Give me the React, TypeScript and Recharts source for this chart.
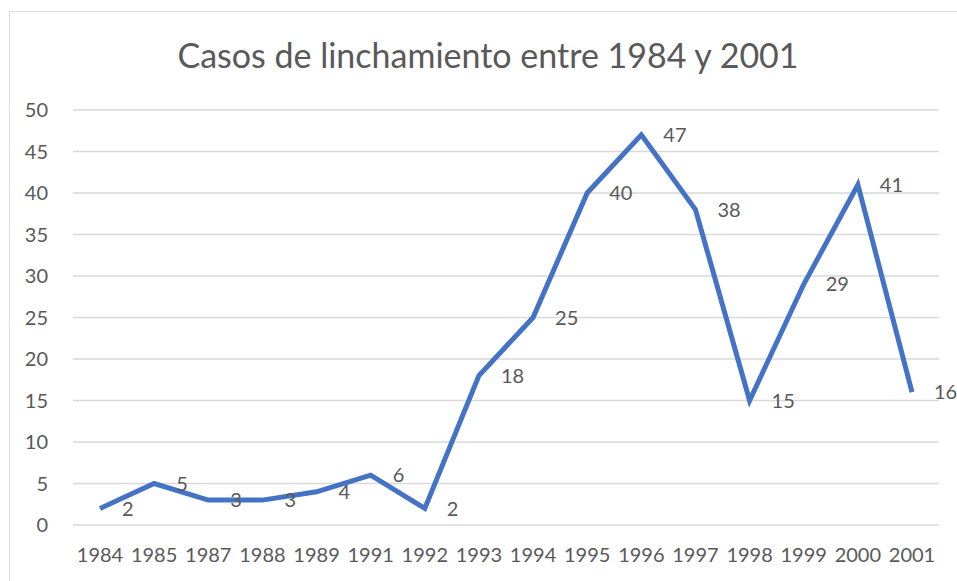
import React from "react";
import {
  LineChart,
  Line,
  XAxis,
  YAxis,
  CartesianGrid,
  LabelList,
} from "recharts";

const years = [
  "1984", "1985", "1987", "1988", "1989", "1991", "1992", "1993",
  "1994", "1995", "1996", "1997", "1998", "1999", "2000", "2001",
];
const cases = [2, 5, 3, 3, 4, 6, 2, 18, 25, 40, 47, 38, 15, 29, 41, 16];
const yTicks = [0, 5, 10, 15, 20, 25, 30, 35, 40, 45, 50];

const chartData = years.map((year, i) => ({ year, cases: cases[i] }));

const FONT = "Lato, 'Open Sans', sans-serif";
const TEXT = "#595959";

export default function App() {
  return (
    <div
      style={{
        position: "absolute",
        left: 0,
        top: 0,
        width: 957,
        height: 581,
        overflow: "hidden",
        background: "#fff",
        fontFamily: FONT,
      }}
    >
      {/* chart area border */}
      <div
        style={{
          position: "absolute",
          left: 9,
          top: 11,
          width: 980,
          height: 600,
          border: "1px solid #d9d9d9",
        }}
      />
      <div
        style={{
          position: "absolute",
          left: 9,
          width: 958,
          top: 33,
          textAlign: "center",
          fontSize: 34,
          color: TEXT,
          lineHeight: "44px",
          whiteSpace: "nowrap",
        }}
      >
        Casos de linchamiento entre 1984 y 2001
      </div>
      <div style={{ position: "absolute", left: 0, top: 0 }}>
        <LineChart
          width={957}
          height={581}
          data={chartData}
          margin={{ top: 110, right: 18, bottom: 0, left: 13 }}
        >
          <CartesianGrid vertical={false} stroke="#d9d9d9" strokeWidth={1.5} />
          <XAxis
            dataKey="year"
            height={56}
            padding={{ left: 27, right: 27 }}
            axisLine={false}
            tickLine={false}
            tickSize={0}
            tickMargin={23}
            interval={0}
            tick={{ fill: TEXT, fontSize: 20, fontFamily: FONT }}
          />
          <YAxis
            width={60}
            domain={[0, 50]}
            ticks={yTicks}
            axisLine={false}
            tickLine={false}
            tickSize={0}
            tickMargin={25}
            tick={{ fill: TEXT, fontSize: 20, fontFamily: FONT }}
          />
          <Line
            type="linear"
            dataKey="cases"
            stroke="#4472c4"
            strokeWidth={5}
            dot={false}
            activeDot={false}
            isAnimationActive={false}
          >
            <LabelList
              dataKey="cases"
              position="right"
              offset={22}
              fill={TEXT}
              fontSize={20}
              fontFamily={FONT}
            />
          </Line>
        </LineChart>
      </div>
    </div>
  );
}
